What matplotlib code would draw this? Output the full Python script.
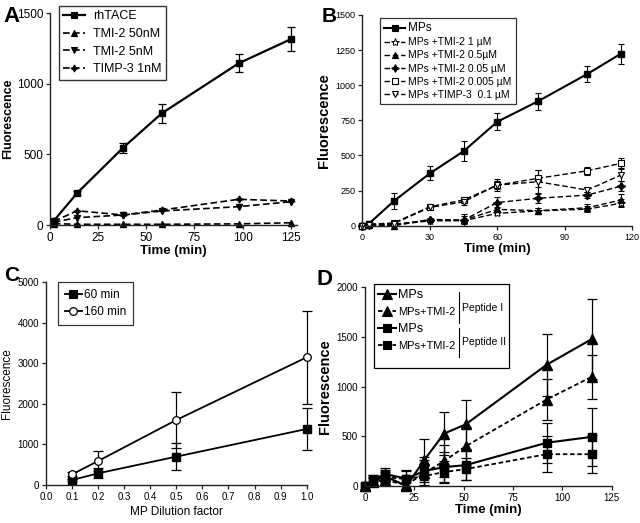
import numpy as np
import matplotlib
matplotlib.use('Agg')
import matplotlib.pyplot as plt
from matplotlib.patches import Rectangle
from matplotlib.lines import Line2D

plt.rcParams['font.family'] = ['Liberation Sans', 'DejaVu Sans']

# ---- panel A data
tA = [2, 14, 38, 58, 98, 125]
rhTACE = [30, 225, 548, 791, 1146, 1316]
rhTACE_err = [10, 15, 35, 65, 65, 85]
tmi50 = [10, 5, 5, 5, 8, 16]
tmi5 = [20, 52, 71, 99, 130, 165]
timp1 = [25, 101, 71, 106, 182, 170]

# ---- panel B data
tB = [0, 3, 14, 30, 45, 60, 78, 100, 115]
mpsB = [0, 15, 175, 372, 530, 740, 885, 1080, 1225]
mpsB_err = [0, 15, 57, 50, 70, 60, 63, 60, 72]
b_1uM = [0, 5, 5, 35, 35, 88, 105, 118, 160]
b_1uM_err = [0, 5, 5, 10, 15, 15, 20, 20, 30]
b_05uM = [0, 5, 0, 45, 40, 116, 107, 128, 183]
b_05uM_err = [0, 5, 5, 10, 40, 20, 20, 25, 40]
b_005uM = [0, 5, 10, 40, 40, 165, 195, 218, 282]
b_005uM_err = [0, 5, 5, 10, 30, 40, 30, 20, 35]
b_0005uM = [0, 10, 20, 135, 183, 289, 337, 391, 444]
b_0005uM_err = [0, 10, 10, 15, 15, 30, 60, 30, 35]
b_timp = [0, 8, 15, 130, 170, 289, 313, 254, 361]
b_timp_err = [0, 8, 10, 15, 20, 40, 80, 15, 40]

# ---- panel C data
dil = [0.1, 0.2, 0.5, 1.0]
c60 = [123, 288, 700, 1382]
c60_err = [30, 125, 337, 527]
c160 = [263, 592, 1604, 3150]
c160_err = [50, 245, 700, 1140]

# ---- panel D data
tD = [0, 4, 10, 21, 30, 40, 51, 92, 115]
p1_mps = [0, 50, 100, 0, 260, 527, 620, 1220, 1480]
p1_mps_err = [0, 60, 60, 100, 215, 215, 250, 310, 400]
p1_tmi = [0, 40, 60, 10, 130, 250, 400, 870, 1100]
p1_tmi_err = [0, 40, 50, 80, 130, 160, 190, 210, 220]
p2_mps = [0, 60, 120, 75, 150, 190, 210, 435, 495]
p2_mps_err = [0, 50, 60, 90, 140, 150, 150, 200, 290]
p2_tmi = [0, 50, 90, 70, 100, 140, 170, 320, 320]
p2_tmi_err = [0, 40, 50, 80, 100, 110, 110, 180, 190]

W, H = 640, 523
fig = plt.figure(figsize=(6.4, 5.23), dpi=100)


def box(l, t, r, b):
    return [l / W, 1 - b / H, (r - l) / W, (b - t) / H]


def style(ax, fs):
    for s in ['top', 'right']:
        ax.spines[s].set_visible(False)
    for s in ['left', 'bottom']:
        ax.spines[s].set_linewidth(1.0)
        ax.spines[s].set_color('#222222')
    ax.tick_params(direction='out', length=3, width=0.9, labelsize=fs, pad=2,
                   color='#222222')


def eb(ax, x, y, e, **kw):
    c = ax.errorbar(x, y, yerr=e, **kw)
    c.lines[0].set_clip_on(False)   # markers sitting on the axes stay whole
    return c


def proxy(ls, marker, ms, lw, mfc='black', mew=0.8):
    return Line2D([], [], color='black', ls=ls, lw=lw, marker=marker, ms=ms, mfc=mfc, mew=mew)


dash = (0, (4, 2))

# ---------------- A
axA = fig.add_axes(box(50, 13.3, 296.5, 225))
eb(axA, tA, rhTACE, rhTACE_err, color='black', lw=1.6, marker='s', ms=4.5,
   capsize=3, elinewidth=0.9, capthick=0.9)
for yy, mk, sz in [(tmi50, '^', 4), (tmi5, 'v', 4), (timp1, (4, 1, 0), 5)]:
    ln, = axA.plot(tA, yy, color='black', lw=1.2, ls=dash, marker=mk, ms=sz)
    ln.set_clip_on(False)
axA.set_xlim(0, 128)
axA.set_ylim(0, 1500)
axA.set_xticks([0, 25, 50, 75, 100, 125])
axA.set_yticks([0, 500, 1000, 1500])
style(axA, 8.5)
axA.set_xlabel('Time (min)', fontsize=9.5, fontweight='bold', labelpad=1)
axA.set_ylabel('Fluorescence', fontsize=9, fontweight='bold', labelpad=2)
hA = [proxy('-', 's', 4, 1.6), proxy(dash, '^', 4, 1.2), proxy(dash, 'v', 4, 1.2),
      proxy(dash, (4, 1, 0), 5, 1.2)]
legA = axA.legend(hA, ['rhTACE', 'TMI-2 50nM', 'TMI-2 5nM', 'TIMP-3 1nM'],
                  loc='upper left', bbox_to_anchor=(59 / W, 1 - 6 / H), bbox_transform=fig.transFigure,
                  fontsize=9, frameon=True, fancybox=False, edgecolor='black', handlelength=1.7,
                  borderpad=0.35, labelspacing=0.45, handletextpad=0.7, borderaxespad=0)
legA.get_frame().set_linewidth(1.0)
fig.text(3 / W, 1 - 22 / H, 'A', fontsize=16, fontweight='bold')

# ---------------- B
axB = fig.add_axes(box(362.3, 15, 632.3, 225.7))
ek = dict(capsize=2.5, elinewidth=0.8, capthick=0.8, color='black')
eb(axB, tB, mpsB, mpsB_err, lw=1.5, marker='s', ms=4.5, **ek)
eb(axB, tB, b_1uM, b_1uM_err, lw=1.0, ls=dash, marker='*', ms=6, mfc='white', mew=0.7, **ek)
eb(axB, tB, b_05uM, b_05uM_err, lw=1.0, ls=dash, marker='^', ms=4.5, **ek)
eb(axB, tB, b_005uM, b_005uM_err, lw=1.0, ls=dash, marker=(4, 1, 0), ms=6, **ek)
eb(axB, tB, b_0005uM, b_0005uM_err, lw=1.0, ls=dash, marker='s', ms=4.5, mfc='white', mew=0.8, **ek)
eb(axB, tB, b_timp, b_timp_err, lw=1.0, ls=dash, marker='v', ms=4.5, mfc='white', mew=0.8, **ek)
axB.set_xlim(0, 120)
axB.set_ylim(0, 1500)
axB.set_xticks([0, 30, 60, 90, 120])
axB.set_yticks([0, 250, 500, 750, 1000, 1250, 1500])
style(axB, 6.5)
axB.set_xlabel('Time (min)', fontsize=9.5, fontweight='bold', labelpad=1)
axB.set_ylabel('Fluorescence', fontsize=10.5, fontweight='bold', labelpad=3)
hB = [proxy('-', 's', 4, 1.5), proxy(dash, '*', 6, 1.0, 'white', 0.7), proxy(dash, '^', 4, 1.0),
      proxy(dash, (4, 1, 0), 5.5, 1.0), proxy(dash, 's', 4, 1.0, 'white'),
      proxy(dash, 'v', 4, 1.0, 'white')]
lB = ['MPs', 'MPs +TMI-2 1 µM', 'MPs +TMI-2 0.5µM', 'MPs +TMI-2 0.05 µM',
      'MPs +TMI-2 0.005 µM', 'MPs +TIMP-3  0.1 µM']
legB = axB.legend(hB, lB, loc='upper left', bbox_to_anchor=(380 / W, 1 - 18 / H),
                  bbox_transform=fig.transFigure, fontsize=7.5, frameon=True, fancybox=False,
                  edgecolor='black', handlelength=2.0, borderpad=0.4, labelspacing=0.3,
                  handletextpad=0.3, borderaxespad=0)
legB.get_frame().set_linewidth(0.9)
legB.get_texts()[0].set_fontsize(8.5)
fig.text(322 / W, 1 - 22 / H, 'B', fontsize=15, fontweight='bold')

# ---------------- C
axC = fig.add_axes(box(46, 282.3, 306.7, 485))
ekc = dict(capsize=3.5, elinewidth=0.9, capthick=0.9, color='black')
eb(axC, dil, c60, c60_err, lw=1.3, marker='s', ms=6, **ekc)
eb(axC, dil, c160, c160_err, lw=1.3, marker='o', ms=5.5, mfc='white', mew=0.9, **ekc)
axC.set_xlim(0, 1.0)
axC.set_ylim(0, 5000)
axC.set_xticks(np.arange(0, 1.01, 0.1))
axC.set_xticklabels(['%.1f' % v for v in np.arange(0, 1.01, 0.1)])
axC.set_yticks([0, 1000, 2000, 3000, 4000, 5000])
style(axC, 7)
# bars at x=1.0 sit on the right edge, keep them whole
for c in axC.containers:
    for part in list(c.lines[1]) + list(c.lines[2]):
        part.set_clip_on(False)
axC.set_xlabel('MP Dilution factor', fontsize=8.5, labelpad=3)
axC.set_ylabel('Fluorescence', fontsize=8.5, labelpad=3)
hC = [proxy('-', 's', 6, 1.3), proxy('-', 'o', 5.5, 1.3, 'white', 0.9)]
legC = axC.legend(hC, ['60 min', '160 min'], loc='upper left', bbox_to_anchor=(58 / W, 1 - 282 / H),
                  bbox_transform=fig.transFigure, fontsize=8.5,
                  frameon=True, fancybox=False, edgecolor='black', handlelength=1.4,
                  borderpad=0.6, labelspacing=0.4, handletextpad=0.2, borderaxespad=0)
legC.get_frame().set_linewidth(0.9)
fig.text(4 / W, 1 - 281 / H, 'C', fontsize=15, fontweight='bold')

# ---------------- D
axD = fig.add_axes(box(365, 287.3, 611.7, 486))
ekd = dict(capsize=3.5, elinewidth=0.9, capthick=0.9, color='black')
dd = (0, (2.5, 1.5))
eb(axD, tD, p1_mps, p1_mps_err, lw=1.5, marker='^', ms=6.5, **ekd)
eb(axD, tD, p1_tmi, p1_tmi_err, lw=1.3, ls=dd, marker='^', ms=6.5, **ekd)
eb(axD, tD, p2_mps, p2_mps_err, lw=1.5, marker='s', ms=6, **ekd)
eb(axD, tD, p2_tmi, p2_tmi_err, lw=1.3, ls=dd, marker='s', ms=6, **ekd)
axD.set_xlim(0, 125)
axD.set_ylim(0, 2000)
axD.set_xticks([0, 25, 50, 75, 100, 125])
axD.set_yticks([0, 500, 1000, 1500, 2000])
style(axD, 7)
axD.set_xlabel('Time (min)', fontsize=9.5, fontweight='bold', labelpad=1)
axD.set_ylabel('Fluorescence', fontsize=10.5, fontweight='bold', labelpad=3)
hD = [proxy('-', '^', 6.5, 1.5), proxy(dd, '^', 6.5, 1.3), proxy('-', 's', 6, 1.5), proxy(dd, 's', 6, 1.3)]
legD = axD.legend(hD, ['MPs', 'MPs+TMI-2', 'MPs', 'MPs+TMI-2'], loc='upper left',
                  bbox_to_anchor=(378 / W, 1 - 289 / H), bbox_transform=fig.transFigure,
                  fontsize=8, frameon=False, handlelength=1.6, borderpad=0, labelspacing=0.55,
                  handletextpad=0.2, borderaxespad=0)
legD.get_texts()[0].set_fontsize(9)
legD.get_texts()[2].set_fontsize(9)
fig.add_artist(Rectangle((374 / W, 1 - 368 / H), 135 / W, 84 / H, transform=fig.transFigure,
                         fill=False, ec='black', lw=0.9))
for (y0, y1) in [(292, 323), (328, 357)]:
    fig.add_artist(Line2D([459 / W, 459 / W], [1 - y0 / H, 1 - y1 / H], transform=fig.transFigure,
                          color='black', lw=0.8))
fig.text(462 / W, 1 - 308 / H, 'Peptide I', fontsize=7.5, va='center')
fig.text(462 / W, 1 - 342 / H, 'Peptide II', fontsize=7.5, va='center')
fig.text(316 / W, 1 - 285 / H, 'D', fontsize=16, fontweight='bold')

fig.savefig('out.png', dpi=100)
